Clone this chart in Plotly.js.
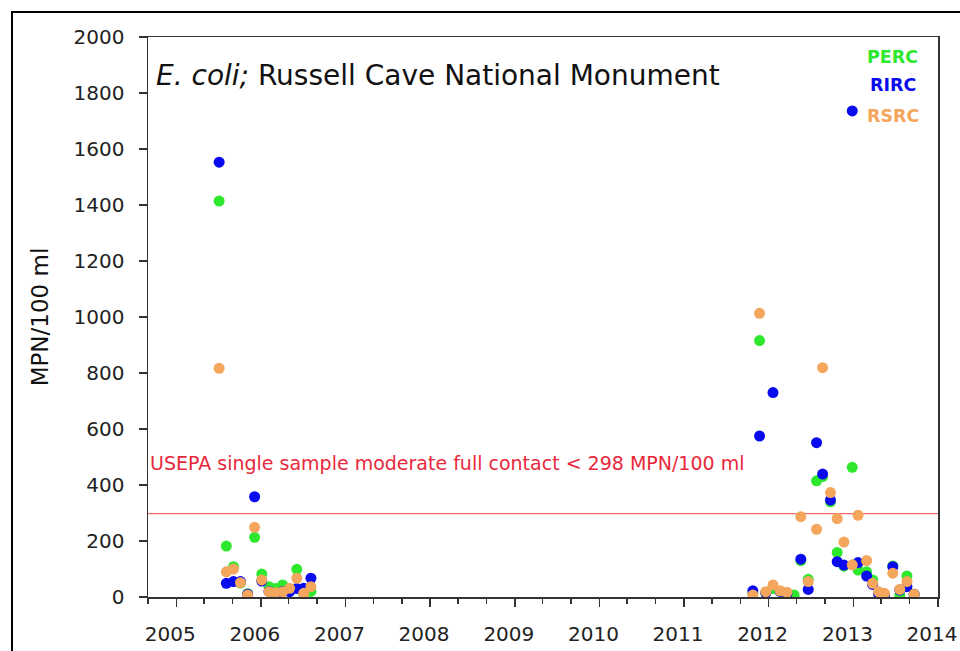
<!DOCTYPE html>
<html>
<head>
<meta charset="utf-8">
<script src="https://cdn.plot.ly/plotly-3.0.1.min.js"></script>
<style>
  html, body { margin: 0; padding: 0; background: #fff; }
  #chart { width: 960px; height: 651px; }
  #frame { position: absolute; left: 11px; top: 11px; width: 960px; height: 700px;
           border-left: 2px solid #000; border-top: 2px solid #000; pointer-events: none; }
</style>
</head>
<body>
<div id="chart"></div>
<div id="frame"></div>
<script>
// Sampling dates (first survey period 2005-2006, second 2011-2013)
const dates1 = ['2005-07-05','2005-08-05','2005-09-05','2005-10-05','2005-11-05','2005-12-05',
  '2006-01-05','2006-02-05','2006-03-05','2006-04-05','2006-05-05','2006-06-05','2006-07-05','2006-08-05'];
const dates2 = ['2011-10-25','2011-11-23','2011-12-20','2012-01-20','2012-02-20','2012-03-20',
  '2012-04-20','2012-05-19','2012-06-20','2012-07-26','2012-08-21','2012-09-24','2012-10-23',
  '2012-11-21','2012-12-27','2013-01-21','2013-02-27','2013-03-25','2013-04-20','2013-05-15',
  '2013-06-20','2013-07-20','2013-08-20','2013-09-20'];

// E. coli, MPN/100 ml
const perc1 = [1414, 182, 108, 50, 12, 213, 82, 37, 30, 43, 25, 99, 10, 20];
const rirc1 = [1553, 49, 55, 55, 10, 358, 57, 20, 7, 20, 19, 30, 31, 67];
const rsrc1 = [817, 90, 100, 51, 7, 249, 61, 19, 15, 19, 31, 67, 13, 37];
const perc2 = [15, 916, 15, 30, 20, 10, 7, 130, 63, 415, 430, 340, 159, 110, 463, 96, 90, 61, 15, 10, 111, 7, 75, 10];
const rirc2 = [22, 575, 15, 730, 20, 12, null, 135, 27, 551, 439, 346, 126, 114, 1736, 123, 75, 45, 11, 1, 108, 25, 37, 10];
const rsrc2 = [7, 1013, 19, 43, 22, 17, null, 287, 55, 242, 819, 373, 280, 196, 115, 292, 130, 49, 19, 13, 85, 27, 55, 10];

const seriesNames = ['PERC', 'RIRC', 'RSRC'];
const standard = 298;
const standardLabel = 'USEPA single sample moderate full contact < 298 MPN/100 ml';
const chartTitle = '<i>E. coli;</i> Russell Cave National Monument';
const yTitle = 'MPN/100 ml';

const dates = dates1.concat(dates2);
const values = [perc1.concat(perc2), rirc1.concat(rirc2), rsrc1.concat(rsrc2)];
const colors = ['#2ee82e', '#0a0aee', '#f4a65c'];
const FONT = 'Comic Sans MS, DejaVu Sans, sans-serif';

const traces = seriesNames.map((n, i) => ({
  type: 'scatter', mode: 'markers', name: n,
  x: dates, y: values[i],
  marker: { color: colors[i], size: 11, line: { width: 0 } },
  showlegend: false
}));

const annotations = [
  { xref: 'paper', yref: 'y', x: 0.008, y: 1864, xanchor: 'left', yanchor: 'middle',
    text: chartTitle, showarrow: false, font: { family: FONT, size: 28, color: '#111' } },
  { xref: 'paper', yref: 'y', x: 0, y: 479, xanchor: 'left', yanchor: 'middle',
    text: standardLabel, showarrow: false, font: { family: FONT, size: 19, color: '#e8283c' } }
];
const legendY = [1929, 1829, 1718];
seriesNames.forEach((n, i) => annotations.push({
  xref: 'paper', yref: 'y', x: 0.943, y: legendY[i], xanchor: 'center', yanchor: 'middle',
  text: '<b>' + n + '</b>', showarrow: false, font: { family: FONT, size: 17.5, color: colors[i] }
}));

const layout = {
  width: 960, height: 651,
  margin: { l: 148, r: 22, t: 37, b: 54 },
  paper_bgcolor: '#fff', plot_bgcolor: '#fff',
  font: { family: FONT, color: '#222' },
  xaxis: {
    type: 'date', range: ['2004-09-01', '2014-01-01'],
    tick0: '2005-01-01', dtick: 'M12', tickformat: '%Y',
    ticks: 'outside', ticklen: 8, tickwidth: 1.5, tickcolor: '#333',
    minor: { dtick: 'M4', tick0: '2005-01-01', ticks: 'outside', ticklen: 5, tickwidth: 1.5, tickcolor: '#333', showgrid: false },
    showgrid: false, zeroline: false,
    showline: true, linecolor: '#333', linewidth: 1.5, mirror: true,
    tickfont: { family: FONT, size: 20, color: '#222' },
    ticklabelstandoff: 10, ticklabelshift: -6
  },
  yaxis: {
    range: [0, 2000], tick0: 0, dtick: 200,
    ticks: 'outside', ticklen: 8, tickwidth: 1.5, tickcolor: '#333',
    showgrid: false, zeroline: false,
    showline: true, linecolor: '#333', linewidth: 1.5, mirror: true,
    tickfont: { family: FONT, size: 20, color: '#222' },
    ticklabelstandoff: 10,
    title: { text: yTitle, font: { family: FONT, size: 23, color: '#111' }, standoff: 18 }
  },
  shapes: [{
    type: 'line', xref: 'paper', yref: 'y', x0: 0, x1: 1, y0: standard, y1: standard,
    line: { color: '#f26a6a', width: 1.2 }, layer: 'below'
  }],
  annotations: annotations
};

Plotly.newPlot('chart', traces, layout, { displayModeBar: false, staticPlot: true });
</script>
</body>
</html>
